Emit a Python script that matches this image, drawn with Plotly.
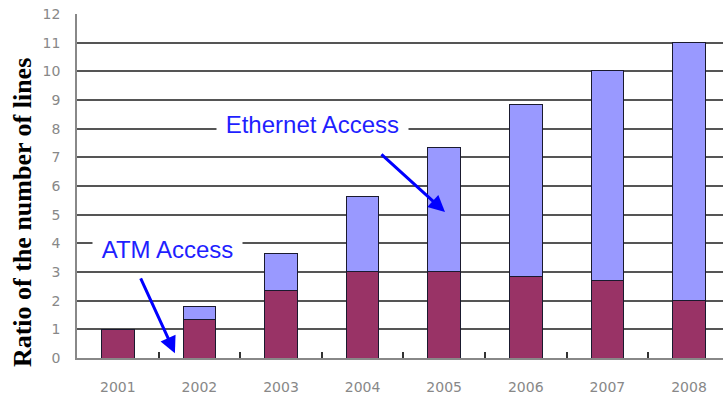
import plotly.graph_objects as go

years = ["2001", "2002", "2003", "2004", "2005", "2006", "2007", "2008"]
atm_access = [1.0, 1.35, 2.37, 3.03, 3.03, 2.86, 2.69, 2.02]
ethernet_access = [0.0, 0.46, 1.29, 2.59, 4.30, 6.00, 7.35, 8.97]
y_ticks = list(range(0, 13))

bar_outline = dict(color="#1a1a2e", width=1)

fig = go.Figure()
fig.add_trace(go.Bar(
    x=years, y=atm_access, name="ATM Access",
    marker=dict(color="#993366", line=bar_outline), width=0.4,
))
fig.add_trace(go.Bar(
    x=years, y=ethernet_access, name="Ethernet Access",
    marker=dict(color="#9999ff", line=bar_outline), width=0.4,
))

label_font = dict(family="Liberation Sans, Arial, sans-serif", size=24, color="#1f1fff")

fig.update_layout(
    width=723, height=398,
    margin=dict(l=77, r=0, t=14, b=40),
    plot_bgcolor="white", paper_bgcolor="white",
    barmode="stack", showlegend=False,
    xaxis=dict(
        type="category", range=[-0.5, 7.417],
        tickson="boundaries", ticks="inside", ticklen=6, tickwidth=1.5, tickcolor="#333",
        showgrid=False, showline=True, linecolor="#888", linewidth=1.5,
        tickfont=dict(family="DejaVu Sans", size=14, color="#888"),
        ticklabelstandoff=15,
    ),
    yaxis=dict(
        range=[0, 12], tickvals=y_ticks, ticks="",
        showgrid=True, gridcolor="#555", gridwidth=1.5,
        showline=True, linecolor="#888", linewidth=1.5, zeroline=False,
        tickfont=dict(family="DejaVu Sans", size=14, color="#888"),
        ticklabelstandoff=12,
    ),
    annotations=[
        dict(text="<b>Ratio of the number of lines</b>", textangle=-90,
             xref="paper", yref="paper", x=-0.085, y=0.4215,
             xanchor="center", yanchor="middle", showarrow=False,
             font=dict(family="Liberation Serif, Times New Roman, serif", size=26, color="black")),
        dict(text="&nbsp;Ethernet Access&nbsp;", xref="x", yref="y", x=2.38, y=8.15,
             showarrow=False, bgcolor="white", borderpad=2, font=label_font),
        dict(text="&nbsp;ATM Access&nbsp;", xref="x", yref="y", x=0.615, y=3.8,
             showarrow=False, bgcolor="white", borderpad=2, font=label_font),
        dict(text="", xref="x", yref="y", axref="x", ayref="y",
             x=4.01, y=5.09, ax=3.213, ay=7.15,
             showarrow=True, arrowhead=2, arrowsize=1.1, arrowwidth=3, arrowcolor="#0000ff"),
        dict(text="", xref="x", yref="y", axref="x", ayref="y",
             x=0.70, y=0.17, ax=0.272, ay=2.83,
             showarrow=True, arrowhead=2, arrowsize=1.1, arrowwidth=3, arrowcolor="#0000ff"),
    ],
)

fig.write_html("out.html")
